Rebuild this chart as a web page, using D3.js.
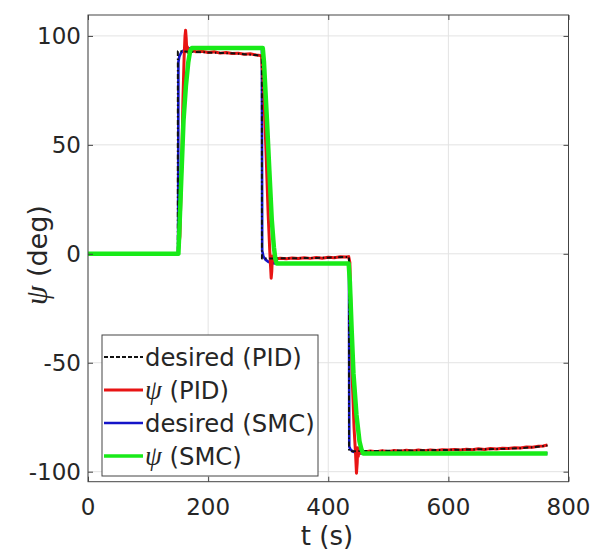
<!DOCTYPE html>
<html>
<head>
<meta charset="utf-8">
<script src="https://cdn.jsdelivr.net/npm/d3@7"></script>
<style>
  html, body { margin: 0; padding: 0; background: #fff; }
  svg { display: block; }
  text { font-family: "DejaVu Sans", Verdana, sans-serif; fill: #262626; }
</style>
</head>
<body>
<svg id="chart" width="600" height="552"></svg>
<script>
// Heading response: reference heading and measured heading for PID and SMC.
// Each series is a list of [time (s), heading (deg)] samples.
const desiredPID = [
  [0, 0], [149.5, 0], [149.6, 93.0], [160, 92.9], [180, 92.6], [200, 92.4], [220, 92.2],
  [240, 92.0], [260, 91.6], [280, 91.2], [289.5, 90.8], [289.6, -2.2], [320, -2.1],
  [350, -2.0], [380, -1.9], [410, -1.7], [434.5, -1.4], [434.6, -90.6], [480, -90.5],
  [520, -90.3], [560, -90.2], [600, -90.0], [640, -89.8], [680, -89.6], [720, -89.2],
  [745, -88.7], [765, -88.0]
];

const psiPID = [
  [0, 0], [150, 0], [153, 8], [156, 40], [158, 70], [160, 90], [161.5, 100], [162.5, 102.6],
  [163.5, 99], [164.5, 93], [165.5, 95], [166.5, 92.4], [168, 93.6], [170, 92.8], [175, 93.3],
  [180, 92.7], [190, 93.0], [200, 92.4], [210, 92.7], [220, 92.1], [230, 92.4], [240, 91.9],
  [250, 92.1], [260, 91.6], [270, 91.8], [280, 91.2], [287, 91.0], [289, 90.5], [292, 78],
  [296, 50], [300, 18], [302.5, 2], [304, -6], [305, -11.2], [306, -8], [307, -1], [308, -3.2],
  [309.5, -1.6], [312, -2.4], [320, -2.0], [330, -2.3], [340, -1.9], [350, -2.2], [360, -1.8],
  [370, -2.1], [380, -1.7], [390, -2.0], [400, -1.6], [410, -1.8], [420, -1.4], [430, -1.5],
  [434, -1.3], [436, -4], [438, -30], [440, -58], [443, -80], [445.5, -92], [447, -100.7],
  [448.2, -96], [449, -89], [450, -93], [451, -90], [452.5, -91.6], [455, -90.4], [460, -91.0],
  [470, -90.5], [480, -90.9], [490, -90.4], [500, -90.8], [510, -90.3], [520, -90.6],
  [530, -90.2], [540, -90.5], [550, -90.1], [560, -90.4], [570, -90.0], [580, -90.3],
  [590, -89.9], [600, -90.1], [610, -89.8], [620, -90.0], [630, -89.7], [640, -89.9],
  [650, -89.5], [660, -89.8], [670, -89.4], [680, -89.6], [690, -89.2], [700, -89.4],
  [710, -89.0], [720, -89.1], [730, -88.7], [740, -88.8], [750, -88.3], [758, -88.2], [765, -87.7]
];

const desiredSMC = [
  [0, 0], [150, 0], [150.5, 88], [152, 90.5], [155, 92.3], [160, 93.5], [166, 94.1],
  [172, 94.4], [289.5, 94.4], [290, 1.5], [292, -1.2], [296, -2.8], [301, -3.8], [307, -4.3],
  [312, -4.4], [434.5, -4.4], [435, -88.5], [437, -89.8], [441, -90.7], [447, -91.3],
  [455, -91.6], [765, -91.6]
];

const psiSMC = [
  [0, 0], [150.5, 0], [152, 10], [155, 32], [159, 61], [163, 77], [167, 88], [170, 93],
  [173, 94.4], [291, 94.4], [293, 88], [298, 61], [302, 38], [306, 15.5], [309.5, 3],
  [312, -2.5], [314, -4.4], [434, -4.4], [436, -13], [439, -35], [442, -55], [447, -74],
  [452, -86], [455, -89.5], [458, -91.6], [765, -91.6]
];

const xTicks = [0, 200, 400, 600, 800];
const yTicks = [-100, -50, 0, 50, 100];

const legendLabels = [
  { name: "desired (PID)", sym: null },
  { name: " (PID)", sym: "ψ" },
  { name: "desired (SMC)", sym: null },
  { name: " (SMC)", sym: "ψ" }
];

// ---- layout ----
const svg = d3.select("#chart");
const L = 88, R = 568.5, T = 15, B = 481.7;
const x = d3.scaleLinear().domain([0, 800]).range([L, R]);
const y = d3.scaleLinear().domain([-104.6, 109.6]).range([B, T]);

svg.append("defs").append("clipPath").attr("id", "plotClip")
  .append("rect").attr("x", L).attr("y", T).attr("width", R - L).attr("height", B - T);

// grid
const grid = svg.append("g").attr("stroke", "#e3e3e3").attr("stroke-width", 1);
grid.selectAll(".gx").data(xTicks).join("line")
  .attr("x1", d => x(d)).attr("x2", d => x(d)).attr("y1", T).attr("y2", B);
grid.selectAll(".gy").data(yTicks).join("line")
  .attr("y1", d => y(d)).attr("y2", d => y(d)).attr("x1", L).attr("x2", R);

// series
const line = d3.line().x(d => x(d[0])).y(d => y(d[1]));
const series = [
  { data: desiredSMC, color: "#1414c8", width: 2.6, dash: null },
  { data: psiPID, color: "#e81414", width: 3, dash: null },
  { data: desiredPID, color: "#111111", width: 2, dash: "5,2.5,1.5,2.5" },
  { data: psiSMC, color: "#18ea18", width: 4.5, dash: null }
];
const plot = svg.append("g").attr("clip-path", "url(#plotClip)");
series.forEach(s => {
  plot.append("path").datum(s.data)
    .attr("d", line)
    .attr("fill", "none")
    .attr("stroke", s.color)
    .attr("stroke-width", s.width)
    .attr("stroke-linejoin", "round")
    .attr("stroke-dasharray", s.dash);
});

// axes box and inward ticks on all four sides
const axisColor = "#444";
const tickLen = 5;
const axisBottom = d3.axisBottom(x).tickValues(xTicks).tickSizeInner(-tickLen).tickSizeOuter(0).tickFormat("");
const axisTop = d3.axisTop(x).tickValues(xTicks).tickSizeInner(-tickLen).tickSizeOuter(0).tickFormat("");
const axisLeft = d3.axisLeft(y).tickValues(yTicks).tickSizeInner(-tickLen).tickSizeOuter(0).tickFormat("");
const axisRight = d3.axisRight(y).tickValues(yTicks).tickSizeInner(-tickLen).tickSizeOuter(0).tickFormat("");
[[axisBottom, `translate(0,${B})`], [axisTop, `translate(0,${T})`],
 [axisLeft, `translate(${L},0)`], [axisRight, `translate(${R},0)`]].forEach(([ax, tr]) => {
  const g = svg.append("g").attr("transform", tr).call(ax);
  g.select(".domain").remove();
  g.selectAll("line").attr("stroke", axisColor);
});
svg.append("rect").attr("x", L).attr("y", T).attr("width", R - L).attr("height", B - T)
  .attr("fill", "none").attr("stroke", axisColor).attr("stroke-width", 1);

// tick labels
svg.append("g").selectAll("text").data(xTicks).join("text")
  .attr("x", d => x(d)).attr("y", 515)
  .attr("text-anchor", "middle").attr("font-size", 23)
  .text(d => d);
svg.append("g").selectAll("text").data(yTicks).join("text")
  .attr("x", 81).attr("y", d => y(d) + 8.5)
  .attr("text-anchor", "end").attr("font-size", 23)
  .text(d => d);

// axis labels
svg.append("text").attr("x", 327).attr("y", 545)
  .attr("text-anchor", "middle").attr("font-size", 26).text("t (s)");
const yl = svg.append("text")
  .attr("transform", "translate(46.5,255) rotate(-90)")
  .attr("text-anchor", "middle").attr("font-size", 27);
yl.append("tspan").attr("font-family", "'Liberation Serif', 'DejaVu Serif', serif")
  .attr("font-style", "italic").attr("font-size", 31).text("ψ");
yl.append("tspan").text(" (deg)");

// legend
const lg = svg.append("g");
lg.append("rect").attr("x", 102).attr("y", 335).attr("width", 216).attr("height", 141)
  .attr("fill", "#fff").attr("stroke", axisColor).attr("stroke-width", 1);
legendLabels.forEach((lab, i) => {
  const s = series[[2, 1, 0, 3][i]];
  const ly = 357 + i * 33;
  lg.append("line").attr("x1", 104).attr("x2", 143).attr("y1", ly).attr("y2", ly)
    .attr("stroke", s.color).attr("stroke-width", Math.min(s.width, 3.5))
    .attr("stroke-dasharray", s.dash ? "4,2" : null);
  const t = lg.append("text").attr("x", 145).attr("y", ly + 8.5).attr("font-size", 24.3)
    .attr("fill", "#111");
  if (lab.sym) {
    t.append("tspan").attr("font-family", "'Liberation Serif', 'DejaVu Serif', serif")
      .attr("font-style", "italic").attr("font-size", 27).text(lab.sym);
  }
  t.append("tspan").text(lab.name);
});
</script>
</body>
</html>
